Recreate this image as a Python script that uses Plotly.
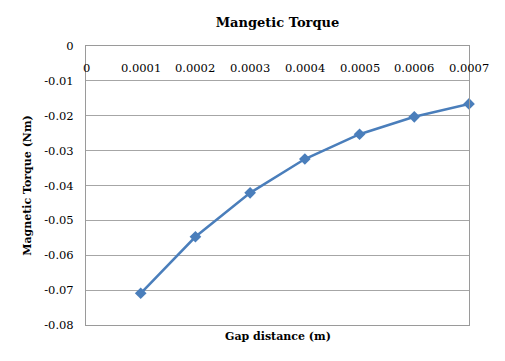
import plotly.graph_objects as go

gap = [0.0001, 0.0002, 0.0003, 0.0004, 0.0005, 0.0006, 0.0007]
torque = [-0.0709, -0.0547, -0.0421, -0.0324, -0.0253, -0.0203, -0.0166]
x_ticks = [0, 0.0001, 0.0002, 0.0003, 0.0004, 0.0005, 0.0006, 0.0007]
x_labels = ["0", "0.0001", "0.0002", "0.0003", "0.0004", "0.0005", "0.0006", "0.0007"]
y_ticks = [0, -0.01, -0.02, -0.03, -0.04, -0.05, -0.06, -0.07, -0.08]
y_labels = ["0", "-0.01", "-0.02", "-0.03", "-0.04", "-0.05", "-0.06", "-0.07", "-0.08"]

FONT = "DejaVu Serif"
W, H = 497, 353  # page body has an 8px margin

fig = go.Figure()
fig.add_trace(go.Scatter(
    x=gap, y=torque, mode="lines+markers",
    line=dict(color="#4A7EBB", width=2.5),
    marker=dict(symbol="diamond", size=9, color="#4A7EBB"),
    showlegend=False, cliponaxis=False,
))

annotations = [dict(
    text=lab, xref="x", yref="paper", x=v, y=1, yshift=-22,
    xanchor="center", yanchor="middle", showarrow=False,
    font=dict(family=FONT, size=11.5, color="black"),
) for v, lab in zip(x_ticks, x_labels)]

annotations.append(dict(
    text="<b>Gap distance (m)</b>", xref="paper", yref="paper",
    x=0.5, y=0, yshift=-11, xanchor="center", yanchor="middle", showarrow=False,
    font=dict(family=FONT, size=11, color="black"),
))

fig.update_layout(
    width=W, height=H,
    margin=dict(l=78, r=36, t=38, b=36, autoexpand=False),
    paper_bgcolor="white", plot_bgcolor="white",
    font=dict(family=FONT, color="black", size=11),
    title=dict(text="<b>Mangetic Torque</b>", x=0.5, xanchor="center",
               xref="paper",
               y=1 - 14 / H, yanchor="middle",
               font=dict(family=FONT, size=13, color="black")),
    xaxis=dict(
        range=[0, 0.0007], showticklabels=False, ticks="",
        showgrid=False, zeroline=False, automargin=False,
        showline=True, linecolor="#9a9a9a", linewidth=1, mirror=True,
    ),
    yaxis=dict(
        range=[-0.08, 0], tickmode="array", tickvals=y_ticks, ticktext=y_labels,
        showgrid=True, gridcolor="#a6a6a6", gridwidth=1, automargin=False,
        zeroline=False, showline=True, linecolor="#9a9a9a", linewidth=1, mirror=True,
        ticks="outside", ticklen=9, tickcolor="rgba(0,0,0,0)",
        tickfont=dict(family=FONT, size=11.5, color="black"),
        title=dict(text="<b>Magnetic Torque (Nm)</b>", standoff=10,
                   font=dict(family=FONT, size=11, color="black")),
    ),
    annotations=annotations,
)

fig.write_html("out.html")
